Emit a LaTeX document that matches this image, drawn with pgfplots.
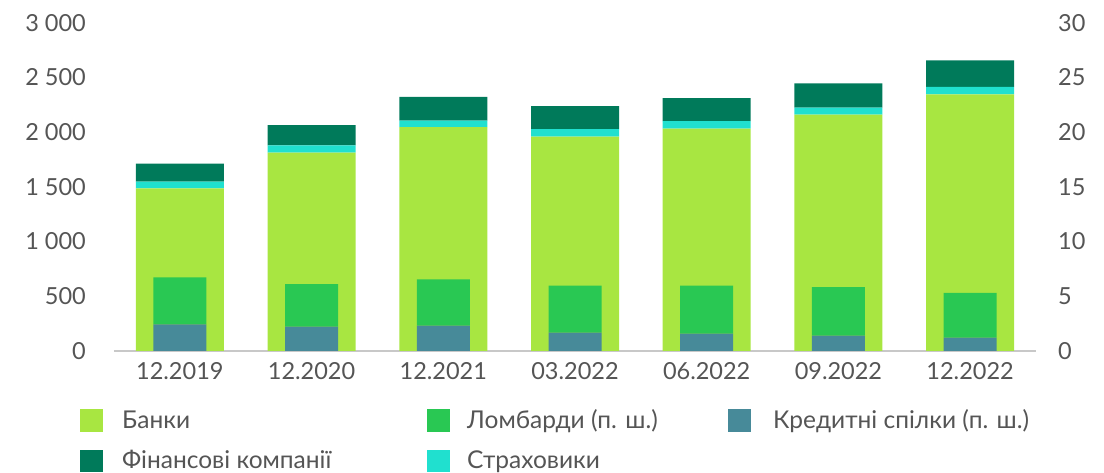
\documentclass[border=0pt]{standalone}
\usepackage{fontspec}
\setmainfont{Lato}
\usepackage{pgfplots}
\pgfplotsset{compat=1.18}
\definecolor{banks}{HTML}{A8E641}
\definecolor{lomb}{HTML}{29C853}
\definecolor{cred}{HTML}{478A99}
\definecolor{fin}{HTML}{007A5A}
\definecolor{ins}{HTML}{20E0CF}
\definecolor{txt}{HTML}{555555}
\definecolor{axl}{HTML}{C8C8C8}
\newcommand{\lfont}{\fontsize{23.5}{28}\selectfont}
\newcommand{\gfont}{\fontsize{24.5}{29}\selectfont}
\begin{document}
\begin{tikzpicture}[x=1pt,y=1pt]
\pgfplotsset{
  common/.style={
    at={(114pt,121pt)}, anchor=south west, scale only axis,
    width=922pt, height=328.3pt,
    xmin=-0.5, xmax=6.5,
    major tick length=0pt,
    tick label style={font=\lfont, text=txt},
  }
}
\begin{axis}[common,
  ymin=0, ymax=3000,
  ybar stacked, bar width=88pt,
  axis x line*=bottom, axis y line*=left,
  y axis line style={draw=none},
  x axis line style={-, draw=axl, line width=1.6pt},
  xtick={0,1,2,3,4,5,6},
  xticklabels={12.2019,12.2020,12.2021,03.2022,06.2022,09.2022,12.2022},
  xticklabel style={anchor=north, inner sep=0pt, yshift=-11pt},
  ytick={0,500,1000,1500,2000,2500,3000},
  yticklabels={0,500,1\ 000,1\ 500,2\ 000,2\ 500,3\ 000},
  yticklabel style={anchor=east, inner sep=0pt, xshift=-28pt},
  clip=false,
]
\addplot[fill=banks, draw=none] coordinates {(0,1486) (1,1813) (2,2045) (3,1960) (4,2033) (5,2161) (6,2344)};
\addplot[fill=ins, draw=none] coordinates {(0,62) (1,67) (2,61) (3,67) (4,67) (5,64) (6,70)};
\addplot[fill=fin, draw=none] coordinates {(0,164) (1,183) (2,217) (3,210) (4,211) (5,220) (6,242)};
\end{axis}
\begin{axis}[common,
  ymin=0, ymax=30,
  ybar stacked, bar width=53pt,
  axis x line=none, axis y line*=right,
  y axis line style={draw=none},
  ytick={0,5,10,15,20,25,30},
  yticklabels={0,5,10,15,20,25,30},
  yticklabel style={anchor=west, inner sep=0pt, xshift=22pt},
]
\addplot[fill=cred, draw=none] coordinates {(0,2.44) (1,2.22) (2,2.31) (3,1.67) (4,1.58) (5,1.40) (6,1.22)};
\addplot[fill=lomb, draw=none] coordinates {(0,4.29) (1,3.90) (2,4.24) (3,4.30) (4,4.39) (5,4.44) (6,4.08)};
\end{axis}
% legend
\fill[banks] (80,40) rectangle (103,63);
\node[anchor=base west, inner sep=0pt, text=txt, font=\gfont] at (122,44) {Банки};
\fill[lomb] (427,40) rectangle (450,63);
\node[anchor=base west, inner sep=0pt, text=txt, font=\gfont] at (467,44) {Ломбарди (п. ш.)};
\fill[cred] (728,40) rectangle (751,63);
\node[anchor=base west, inner sep=0pt, text=txt, font=\gfont] at (773,44) {Кредитні спілки (п. ш.)};
\fill[fin] (80,0) rectangle (103,22);
\node[anchor=base west, inner sep=0pt, text=txt, font=\gfont] at (122,3.5) {Фінансові компанії};
\fill[ins] (427,0) rectangle (450,22);
\node[anchor=base west, inner sep=0pt, text=txt, font=\gfont] at (467,3.5) {Страховики};
\pgfresetboundingbox
\path[use as bounding box] (0,0) rectangle (1104,472);
\end{tikzpicture}
\end{document}
